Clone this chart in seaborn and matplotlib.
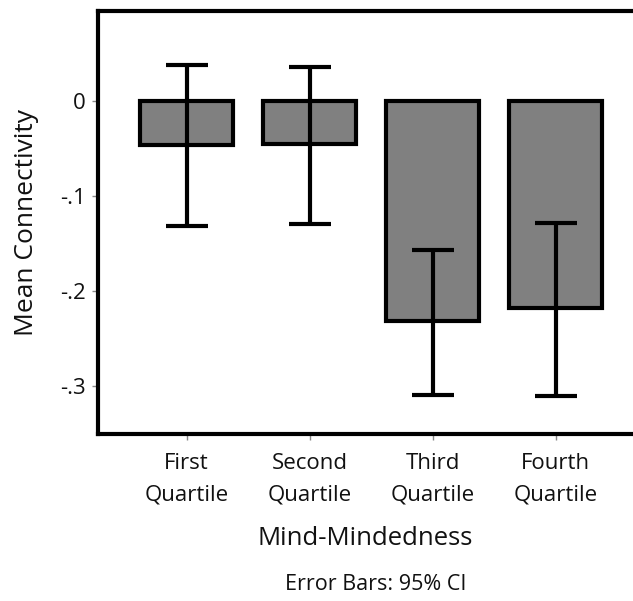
import matplotlib
matplotlib.use("Agg")
import matplotlib.pyplot as plt
import seaborn as sns
import pandas as pd
import numpy as np

categories = ["First\nQuartile", "Second\nQuartile", "Third\nQuartile", "Fourth\nQuartile"]
means = [-0.046, -0.045, -0.232, -0.218]
ci_low = [-0.132, -0.129, -0.309, -0.311]
ci_high = [0.038, 0.036, -0.157, -0.128]
yticks = [0, -0.1, -0.2, -0.3]
ytick_labels = ["0", "-.1", "-.2", "-.3"]

sns.set_theme(style="white")
plt.rcParams["font.family"] = ["Open Sans", "DejaVu Sans"]

df = pd.DataFrame({"group": categories, "mean": means})

fig = plt.figure(figsize=(6.33, 6.01), dpi=100)
ax = fig.add_axes([0.1548, 0.2779, 0.8452, 0.7038])

sns.barplot(data=df, x="group", y="mean", color="#808080", saturation=1,
            width=0.75, edgecolor="black", linewidth=3, errorbar=None, ax=ax)

x = np.arange(len(categories))
m = np.array(means)
yerr = np.vstack([m - np.array(ci_low), np.array(ci_high) - m])
ax.errorbar(x, m, yerr=yerr, fmt="none", ecolor="black", elinewidth=3,
            capsize=15, capthick=3, zorder=5)

ax.set_xlim(-0.72, 3.63)
ax.set_ylim(-0.3505, 0.0947)
ax.set_yticks(yticks)
ax.set_yticklabels(ytick_labels)

for side in ["left", "bottom", "top"]:
    ax.spines[side].set_visible(True)
    ax.spines[side].set_color("black")
    ax.spines[side].set_linewidth(3)
ax.spines["right"].set_visible(False)

ax.tick_params(axis="both", which="both", direction="out", length=4, width=1,
               color="#888888", labelsize=16, labelcolor="#111111", pad=5,
               bottom=True, left=True)
ax.tick_params(axis="x", pad=10)
for lbl in ax.get_xticklabels():
    lbl.set_linespacing(1.6)

ax.set_xlabel("Mind-Mindedness", fontsize=18.5, color="#111111", labelpad=15)
ax.set_ylabel("Mean Connectivity", fontsize=19, color="#111111", labelpad=15)

fig.text(0.593, 0.028, "Error Bars: 95% CI", ha="center", va="center",
         fontsize=15.5, color="#111111")

fig.savefig("out.png", dpi=100, facecolor="white")
